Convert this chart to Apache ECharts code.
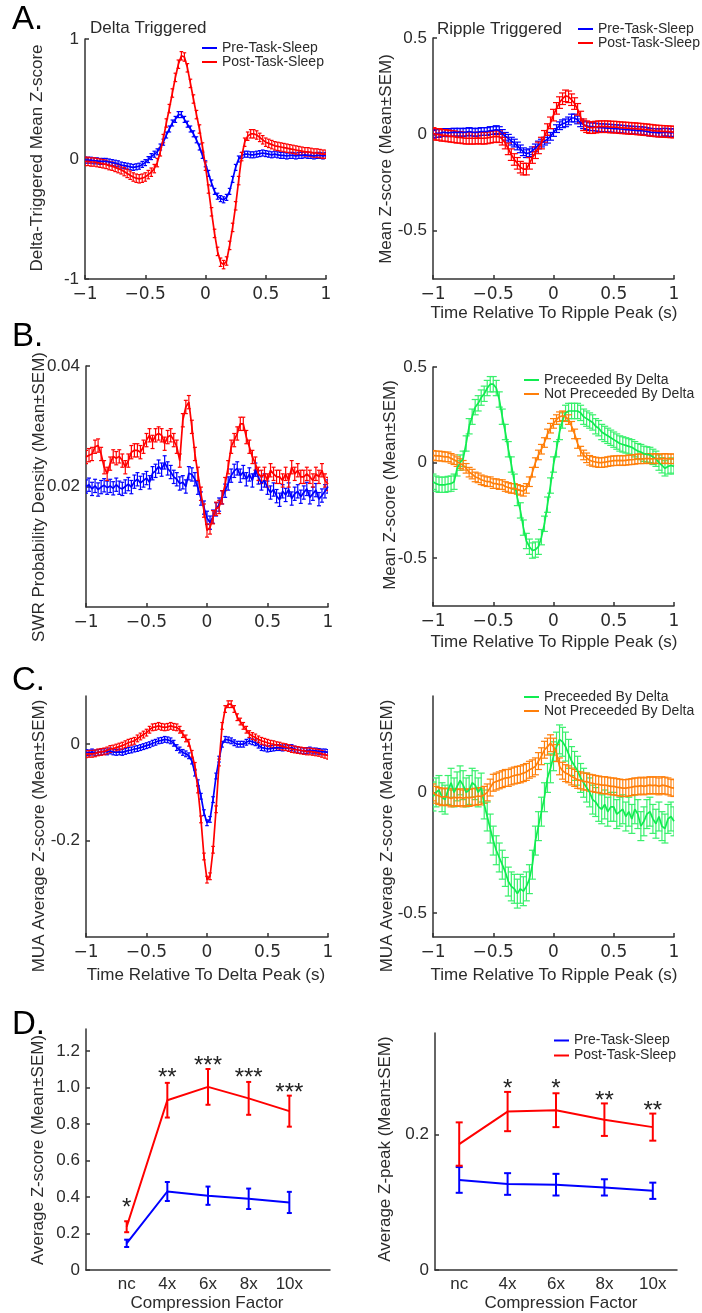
<!DOCTYPE html>
<html><head><meta charset="utf-8">
<script src="https://cdn.jsdelivr.net/npm/echarts@6/dist/echarts.min.js"></script>
<style>html,body{margin:0;padding:0;background:#fff}#c{width:702px;height:1313px}</style>
</head><body><div id="c"></div>
<script>
// ---------------- DATA ----------------
const TIME = [-1,-0.975,-0.95,-0.925,-0.9,-0.875,-0.85,-0.825,-0.8,-0.775,
 -0.75,-0.725,-0.7,-0.675,-0.65,-0.625,-0.6,-0.575,-0.55,-0.525,
 -0.5,-0.475,-0.45,-0.425,-0.4,-0.375,-0.35,-0.325,-0.3,-0.275,
 -0.25,-0.225,-0.2,-0.175,-0.15,-0.125,-0.1,-0.075,-0.05,-0.025,
 0,0.025,0.05,0.075,0.1,0.125,0.15,0.175,0.2,0.225,
 0.25,0.275,0.3,0.325,0.35,0.375,0.4,0.425,0.45,0.475,
 0.5,0.525,0.55,0.575,0.6,0.625,0.65,0.675,0.7,0.725,
 0.75,0.775,0.8,0.825,0.85,0.875,0.9,0.925,0.95,0.975,
 1];

// A left: Delta triggered mean z-score
const AL_PRE = [-0.01,-0.01,-0.01,-0.015,-0.015,-0.02,-0.02,-0.02,-0.025,-0.03,
 -0.035,-0.04,-0.05,-0.055,-0.06,-0.065,-0.07,-0.065,-0.06,-0.045,
 -0.03,-0.005,0.02,0.04,0.06,0.1,0.14,0.2,0.25,0.3,
 0.33,0.37,0.37,0.33,0.29,0.25,0.21,0.16,0.1,0.03,
 -0.04,-0.12,-0.2,-0.27,-0.31,-0.33,-0.34,-0.32,-0.27,-0.17,
 -0.07,0.0,0.03,0.04,0.04,0.035,0.035,0.04,0.045,0.05,
 0.045,0.04,0.035,0.04,0.035,0.03,0.03,0.025,0.03,0.03,
 0.025,0.03,0.03,0.035,0.03,0.03,0.025,0.03,0.03,0.025,
 0.03];
const AL_POST = [-0.02,-0.02,-0.025,-0.025,-0.03,-0.035,-0.04,-0.045,-0.055,-0.06,
 -0.07,-0.08,-0.09,-0.105,-0.12,-0.135,-0.15,-0.16,-0.165,-0.16,
 -0.15,-0.13,-0.11,-0.08,-0.03,0.06,0.17,0.3,0.42,0.55,
 0.68,0.79,0.86,0.85,0.76,0.63,0.5,0.37,0.25,0.1,
 -0.06,-0.25,-0.44,-0.62,-0.77,-0.86,-0.88,-0.85,-0.72,-0.57,
 -0.39,-0.18,0.02,0.14,0.19,0.21,0.21,0.2,0.18,0.16,
 0.14,0.13,0.12,0.11,0.105,0.1,0.095,0.09,0.085,0.08,
 0.075,0.07,0.065,0.06,0.06,0.055,0.05,0.05,0.045,0.04,
 0.04];
const AL_SEM = [0.025, 0.035];

// A right: Ripple triggered
const AR_PRE = [0.0,0.005,0.005,0.01,0.01,0.008,0.01,0.012,0.01,0.012,
 0.01,0.012,0.015,0.012,0.01,0.012,0.015,0.015,0.015,0.02,
 0.02,0.025,0.02,0.005,-0.01,-0.02,-0.035,-0.045,-0.06,-0.075,
 -0.09,-0.1,-0.095,-0.085,-0.07,-0.055,-0.045,-0.035,-0.025,-0.01,
 0.01,0.03,0.045,0.055,0.06,0.07,0.085,0.085,0.075,0.06,
 0.05,0.045,0.04,0.04,0.038,0.035,0.035,0.034,0.033,0.032,
 0.03,0.03,0.028,0.027,0.025,0.024,0.022,0.022,0.02,0.02,
 0.018,0.015,0.012,0.01,0.01,0.008,0.01,0.012,0.01,0.008,
 0.01];
const AR_POST = [0.005,0.0,0.0,-0.005,-0.005,-0.008,-0.01,-0.012,-0.015,-0.015,
 -0.018,-0.02,-0.02,-0.02,-0.02,-0.018,-0.02,-0.02,-0.018,-0.015,
 -0.012,-0.01,-0.012,-0.025,-0.045,-0.075,-0.105,-0.13,-0.15,-0.17,
 -0.18,-0.18,-0.15,-0.12,-0.095,-0.07,-0.045,-0.01,0.025,0.06,
 0.1,0.135,0.165,0.185,0.2,0.195,0.18,0.16,0.13,0.09,
 0.05,0.04,0.035,0.035,0.038,0.04,0.04,0.04,0.04,0.038,
 0.038,0.037,0.035,0.034,0.033,0.032,0.03,0.03,0.028,0.027,
 0.025,0.024,0.022,0.02,0.018,0.017,0.016,0.015,0.014,0.013,
 0.012];
const AR_SEM = [0.02, 0.03];

// B left: SWR probability density
const BL_PRE = [0.0200,0.0203,0.0196,0.0201,0.0195,0.0199,0.0202,0.0198,0.0201,0.0197,
 0.0203,0.0198,0.0196,0.0200,0.0204,0.0199,0.0208,0.0212,0.0206,0.0210,
 0.0214,0.0207,0.0222,0.0226,0.0233,0.0228,0.0240,0.0230,0.0224,0.0216,
 0.0212,0.0205,0.0207,0.0200,0.0222,0.0220,0.0212,0.0198,0.0180,0.0165,
 0.0148,0.0140,0.0150,0.0162,0.0170,0.0182,0.0193,0.0205,0.0218,0.0226,
 0.0230,0.0218,0.0224,0.0212,0.0220,0.0210,0.0228,0.0215,0.0205,0.0210,
 0.0198,0.0190,0.0195,0.0184,0.0178,0.0192,0.0186,0.0195,0.0180,0.0188,
 0.0192,0.0183,0.0190,0.0196,0.0182,0.0188,0.0194,0.0179,0.0185,0.0192,
 0.0200];
const BL_POST = [0.0249,0.0252,0.0254,0.0266,0.0268,0.0254,0.0232,0.0221,0.0238,0.0250,
 0.0247,0.0250,0.0243,0.0232,0.0243,0.0257,0.0260,0.0260,0.0257,0.0266,
 0.0277,0.0285,0.0274,0.0285,0.0288,0.0285,0.0271,0.0282,0.0285,0.0277,
 0.0266,0.0243,0.0310,0.0332,0.0340,0.0299,0.0254,0.0221,0.0188,0.0160,
 0.0127,0.0132,0.0149,0.0163,0.0166,0.0182,0.0204,0.0232,0.0266,0.0277,
 0.0288,0.0304,0.0304,0.0282,0.0266,0.0249,0.0238,0.0221,0.0216,0.0221,
 0.0210,0.0227,0.0221,0.0216,0.0216,0.0210,0.0221,0.0210,0.0232,0.0221,
 0.0227,0.0216,0.0216,0.0221,0.0216,0.0210,0.0221,0.0216,0.0227,0.0210,
 0.0204];
const BL_SEM = [0.0011, 0.0011];

// B right: ripple triggered, preceded / not preceded by delta
const BR_DELTA = [-0.1,-0.11,-0.116,-0.116,-0.116,-0.112,-0.11,-0.1,-0.03,0.0,
 0.02,0.1,0.19,0.24,0.29,0.31,0.34,0.36,0.39,0.41,
 0.41,0.39,0.33,0.24,0.16,0.07,-0.01,-0.1,-0.185,-0.25,
 -0.34,-0.41,-0.44,-0.46,-0.455,-0.44,-0.39,-0.32,-0.22,-0.12,
 -0.01,0.07,0.16,0.22,0.26,0.27,0.27,0.27,0.27,0.26,
 0.24,0.23,0.22,0.21,0.19,0.18,0.16,0.15,0.14,0.13,
 0.12,0.11,0.1,0.095,0.09,0.085,0.08,0.07,0.06,0.055,
 0.046,0.043,0.04,0.03,0.02,0.0,-0.014,-0.03,-0.02,-0.015,
 -0.02];
const BR_NODELTA = [0.038,0.035,0.035,0.033,0.03,0.03,0.022,0.015,0.005,-0.005,
 -0.014,-0.03,-0.05,-0.06,-0.075,-0.08,-0.09,-0.095,-0.1,-0.1,
 -0.11,-0.11,-0.115,-0.115,-0.125,-0.13,-0.135,-0.135,-0.14,-0.145,
 -0.15,-0.135,-0.1,-0.05,0.0,0.04,0.07,0.105,0.15,0.18,
 0.205,0.225,0.24,0.245,0.24,0.225,0.19,0.15,0.1,0.06,
 0.04,0.025,0.012,0.006,0.003,0.0,0.0,0.002,0.005,0.008,
 0.01,0.01,0.012,0.01,0.012,0.014,0.015,0.017,0.02,0.02,
 0.02,0.022,0.02,0.02,0.022,0.02,0.02,0.022,0.02,0.02,
 0.02];
const BR_SEM = [0.04, 0.025];

// C left: MUA around delta peak
const CL_PRE = [-0.017,-0.018,-0.016,-0.018,-0.017,-0.016,-0.015,-0.016,-0.014,-0.016,
 -0.017,-0.016,-0.017,-0.015,-0.013,-0.012,-0.01,-0.009,-0.007,-0.005,
 -0.003,-0.001,0.002,0.004,0.007,0.008,0.01,0.009,0.007,0.002,
 -0.007,-0.012,-0.017,-0.02,-0.024,-0.035,-0.06,-0.08,-0.108,-0.142,
 -0.163,-0.156,-0.115,-0.066,-0.031,0.0,0.01,0.009,0.007,0.003,
 0.0,0.0,0.0,0.004,0.007,0.005,0.003,-0.002,-0.007,-0.008,
 -0.01,-0.009,-0.008,-0.007,-0.007,-0.008,-0.007,-0.009,-0.007,-0.01,
 -0.012,-0.013,-0.014,-0.013,-0.012,-0.014,-0.014,-0.015,-0.016,-0.016,
 -0.017];
const CL_POST = [-0.021,-0.02,-0.02,-0.019,-0.017,-0.016,-0.015,-0.013,-0.01,-0.009,
 -0.007,-0.005,-0.003,0.0,0.003,0.005,0.007,0.012,0.016,0.02,
 0.024,0.03,0.035,0.036,0.038,0.036,0.035,0.036,0.038,0.036,
 0.035,0.03,0.021,0.012,0.003,-0.02,-0.045,-0.094,-0.156,-0.233,
 -0.281,-0.274,-0.219,-0.135,-0.038,0.038,0.073,0.083,0.083,0.073,
 0.056,0.047,0.038,0.03,0.021,0.017,0.014,0.01,0.007,0.005,
 0.003,0.001,0.0,-0.002,-0.003,-0.005,-0.006,-0.008,-0.01,-0.011,
 -0.012,-0.013,-0.014,-0.015,-0.015,-0.016,-0.017,-0.018,-0.02,-0.022,
 -0.024];
const CL_SEM = [0.006, 0.007];

// C right: MUA around ripple peak, preceded / not preceded by delta
const CR_DELTA = [-0.017,0.0,0.01,-0.02,-0.03,0.01,0.04,0.0,0.025,0.05,
 0.03,0.0,0.01,0.04,0.03,0.0,0.02,-0.05,-0.1,-0.15,
 -0.2,-0.24,-0.27,-0.3,-0.33,-0.37,-0.39,-0.4,-0.42,-0.4,
 -0.41,-0.39,-0.36,-0.3,-0.2,-0.14,-0.08,-0.02,0.06,0.1,
 0.15,0.19,0.22,0.21,0.19,0.16,0.13,0.11,0.09,0.06,
 0.04,0.02,0.0,-0.03,-0.04,-0.06,-0.07,-0.05,-0.08,-0.06,
 -0.06,-0.09,-0.08,-0.07,-0.1,-0.08,-0.11,-0.07,-0.09,-0.14,
 -0.12,-0.09,-0.08,-0.11,-0.13,-0.1,-0.14,-0.15,-0.11,-0.1,
 -0.12];
const CR_NODELTA = [0.0,-0.01,-0.015,-0.02,-0.017,-0.02,-0.025,-0.02,-0.023,-0.02,
 -0.025,-0.02,-0.023,-0.02,-0.018,-0.015,-0.017,-0.01,0.0,0.02,
 0.04,0.045,0.05,0.055,0.06,0.06,0.066,0.07,0.073,0.075,
 0.08,0.085,0.094,0.1,0.108,0.13,0.15,0.177,0.19,0.204,
 0.19,0.163,0.108,0.09,0.08,0.075,0.066,0.06,0.052,0.05,
 0.045,0.045,0.04,0.038,0.035,0.033,0.03,0.03,0.028,0.025,
 0.025,0.022,0.02,0.018,0.018,0.02,0.022,0.025,0.025,0.028,
 0.025,0.028,0.03,0.028,0.03,0.025,0.03,0.028,0.025,0.02,
 0.018];
const CR_SEM = [0.06, 0.035];

// D: compression factor
const CATS = ['nc','4x','6x','8x','10x'];
const CAT_POS = [1,2,3,4,5];
const DL_PRE = [0.146,0.43,0.407,0.39,0.37];
const DL_PRE_SEM = [0.02,0.052,0.05,0.056,0.058];
const DL_POST = [0.237,0.93,1.003,0.94,0.87];
const DL_POST_SEM = [0.03,0.095,0.098,0.09,0.085];
const DL_STARS = ['*','**','***','***','***'];
const DL_STAR_Y = [0.365,1.076,1.14,1.076,0.994];
const DR_PRE = [0.133,0.127,0.126,0.122,0.117];
const DR_PRE_SEM = [0.019,0.016,0.016,0.012,0.012];
const DR_POST = [0.186,0.234,0.236,0.222,0.211];
const DR_POST_SEM = [0.032,0.029,0.025,0.024,0.02];
const DR_STARS = ['','*','*','**','**'];
const DR_STAR_Y = [0,0.2745,0.2745,0.256,0.242];

const PRE = 'Pre-Task-Sleep', POST = 'Post-Task-Sleep';
const PD = 'Preceeded By Delta', NPD = 'Not Preceeded By Delta';

// ---------------- STYLE ----------------
const FONT = '"Liberation Sans", Arial, Helvetica, sans-serif';
const XFONT = '"DejaVu Sans", "Liberation Sans", sans-serif';
const TXT = '#2b2b2b';
const AX = '#333333';
const C_PRE = '#0000ff', C_POST = '#ff0000';
const C_GREEN = '#10ec50', C_GREEN_BAR = '#38f06c', C_ORANGE = '#ff7f0a';

const GRIDS = [
  {left:85, top:39, width:241, height:240},
  {left:433, top:38, width:241, height:241},
  {left:86, top:366, width:242, height:241},
  {left:433, top:367, width:241, height:239},
  {left:86, top:696, width:242, height:241},
  {left:433, top:696, width:241, height:241},
  {left:86, top:1029, width:244, height:241},
  {left:435, top:1033, width:242, height:237}
];

function pair(xs, ys){ return xs.map((x,i)=>[x, ys[i]]); }
function lineSeries(name, gi, xs, ys, color, w){
  return {type:'line', name, xAxisIndex:gi, yAxisIndex:gi, data:pair(xs,ys),
    showSymbol:false, symbol:'none', color, lineStyle:{color, width:w},
    silent:true, animation:false, z:3};
}
function errSeries(gi, xs, ys, sem, color, cap, w){
  const data = xs.map((x,i)=>[x, ys[i], Array.isArray(sem) ? sem[i] : sem]);
  return {type:'custom', name:'err', xAxisIndex:gi, yAxisIndex:gi, data,
    silent:true, animation:false, z:3, clip:true,
    renderItem(params, api){
      const x = api.value(0), y = api.value(1), e = api.value(2);
      const p1 = api.coord([x, y+e]), p2 = api.coord([x, y-e]);
      const st = {stroke:color, lineWidth:w};
      return {type:'group', children:[
        {type:'line', shape:{x1:p1[0],y1:p1[1],x2:p2[0],y2:p2[1]}, style:st},
        {type:'line', shape:{x1:p1[0]-cap,y1:p1[1],x2:p1[0]+cap,y2:p1[1]}, style:st},
        {type:'line', shape:{x1:p2[0]-cap,y1:p2[1],x2:p2[0]+cap,y2:p2[1]}, style:st}
      ]};
    }};
}
function starSeries(gi, xs, ys, labels){
  const data = xs.map((x,i)=>[x, ys[i], i]).filter(d => labels[d[2]]);
  return {type:'custom', name:'stars', xAxisIndex:gi, yAxisIndex:gi, data,
    silent:true, animation:false, z:5,
    renderItem(params, api){
      const p = api.coord([api.value(0), api.value(1)]);
      return {type:'text', x:p[0], y:p[1]+5,
        style:{text:labels[api.value(2)], fontSize:24, fontFamily:FONT, fill:'#222',
               align:'center', verticalAlign:'middle'}};
    }};
}
const lbl = {fontSize:17, color:TXT, fontFamily:FONT};
function fmtY(v){ return v === 0 ? '0' : String(v); }
function fmtX(v){ return v < 0 ? '\u2212' + Math.abs(v) : String(v); }
function timeX(gi){
  return {type:'value', gridIndex:gi, min:-1, max:1, interval:0.5,
    axisLine:{show:true, onZero:false, lineStyle:{color:AX, width:1.5}},
    axisTick:{show:true, inside:true, length:4, lineStyle:{color:AX, width:1.5}},
    axisLabel:{margin:7, formatter:fmtX, fontSize:17, color:TXT, fontFamily:XFONT},
    splitLine:{show:false}};
}
function catX(gi, min, max){
  return {type:'value', gridIndex:gi, min, max,
    axisLine:{show:true, onZero:false, lineStyle:{color:AX, width:1.5}},
    axisTick:{show:false},
    axisLabel:Object.assign({margin:6, customValues:CAT_POS, formatter:v => CATS[Math.round(v)-1]}, lbl),
    splitLine:{show:false}};
}
function valY(gi, min, max, vals, fmt){
  return {type:'value', gridIndex:gi, min, max,
    axisLine:{show:true, onZero:false, lineStyle:{color:AX, width:1.5}},
    axisTick:{show:true, inside:true, length:4, customValues:vals, lineStyle:{color:AX, width:1.5}},
    axisLabel:Object.assign({margin:6, customValues:vals, formatter:fmt || fmtY}, lbl),
    splitLine:{show:false}};
}

const xAxis = [timeX(0), timeX(1), timeX(2), timeX(3), timeX(4), timeX(5), catX(6,0,6), catX(7,0.5,5.5)];
const yAxis = [
  valY(0, -1, 1, [-1,0,1]),
  valY(1, -0.75, 0.5, [-0.5,0,0.5]),
  valY(2, 0, 0.04, [0.02,0.04]),
  valY(3, -0.75, 0.5, [-0.5,0,0.5]),
  valY(4, -0.4, 0.1, [-0.2,0]),
  valY(5, -0.6, 0.4, [-0.5,0]),
  valY(6, 0, 1.32, [0,0.2,0.4,0.6,0.8,1.0,1.2], v => v === 0 ? '0' : v.toFixed(1)),
  valY(7, 0, 0.35, [0,0.2])
];

const LW = 1.7;
const series = [
  lineSeries(PRE, 0, TIME, AL_PRE, C_PRE, LW), errSeries(0, TIME, AL_PRE, AL_SEM[0], C_PRE, 1.8, 1.2),
  lineSeries(POST, 0, TIME, AL_POST, C_POST, LW), errSeries(0, TIME, AL_POST, AL_SEM[1], C_POST, 1.8, 1.2),
  lineSeries(PRE, 1, TIME, AR_PRE, C_PRE, LW), errSeries(1, TIME, AR_PRE, AR_SEM[0], C_PRE, 3.5, 1.2),
  lineSeries(POST, 1, TIME, AR_POST, C_POST, LW), errSeries(1, TIME, AR_POST, AR_SEM[1], C_POST, 3.5, 1.2),
  lineSeries(PRE, 2, TIME, BL_PRE, C_PRE, LW), errSeries(2, TIME, BL_PRE, BL_SEM[0], C_PRE, 2, 1.2),
  lineSeries(POST, 2, TIME, BL_POST, C_POST, LW), errSeries(2, TIME, BL_POST, BL_SEM[1], C_POST, 2, 1.2),
  lineSeries(PD, 3, TIME, BR_DELTA, C_GREEN, LW), errSeries(3, TIME, BR_DELTA, BR_SEM[0], C_GREEN_BAR, 3.5, 1.2),
  lineSeries(NPD, 3, TIME, BR_NODELTA, C_ORANGE, LW), errSeries(3, TIME, BR_NODELTA, BR_SEM[1], C_ORANGE, 3.5, 1.2),
  lineSeries(PRE, 4, TIME, CL_PRE, C_PRE, LW), errSeries(4, TIME, CL_PRE, CL_SEM[0], C_PRE, 1.8, 1.2),
  lineSeries(POST, 4, TIME, CL_POST, C_POST, LW), errSeries(4, TIME, CL_POST, CL_SEM[1], C_POST, 1.8, 1.2),
  lineSeries(PD, 5, TIME, CR_DELTA, C_GREEN, LW), errSeries(5, TIME, CR_DELTA, CR_SEM[0], C_GREEN_BAR, 3.5, 1.2),
  lineSeries(NPD, 5, TIME, CR_NODELTA, C_ORANGE, LW), errSeries(5, TIME, CR_NODELTA, CR_SEM[1], C_ORANGE, 3.5, 1.2),
  lineSeries(PRE, 6, CAT_POS, DL_PRE, C_PRE, 2), errSeries(6, CAT_POS, DL_PRE, DL_PRE_SEM, C_PRE, 2.5, 2),
  lineSeries(POST, 6, CAT_POS, DL_POST, C_POST, 2), errSeries(6, CAT_POS, DL_POST, DL_POST_SEM, C_POST, 2.5, 2),
  starSeries(6, CAT_POS, DL_STAR_Y, DL_STARS),
  lineSeries(PRE, 7, CAT_POS, DR_PRE, C_PRE, 2), errSeries(7, CAT_POS, DR_PRE, DR_PRE_SEM, C_PRE, 3.5, 2),
  lineSeries(POST, 7, CAT_POS, DR_POST, C_POST, 2), errSeries(7, CAT_POS, DR_POST, DR_POST_SEM, C_POST, 3.5, 2),
  starSeries(7, CAT_POS, DR_STAR_Y, DR_STARS)
];

function legendAt(names, left, top, fs, lh){
  return {data:names, left, top, orient:'vertical', padding:0, itemGap:0,
    icon:'rect', itemWidth:15, itemHeight:2, selectedMode:false,
    textStyle:{fontSize:fs, lineHeight:lh, color:TXT, fontFamily:FONT}};
}
const legend = [
  legendAt([PRE, POST], 202, 41, 14, 14),
  legendAt([PRE, POST], 578, 22, 14, 14),
  legendAt([PD, NPD], 524, 373, 14, 14),
  legendAt([PD, NPD], 524, 690, 14, 14),
  legendAt([PRE, POST], 554, 1033, 14, 15)
];

function txt(text, x, y, opt){
  return Object.assign({type:'text', x, y, silent:true,
    style:{text, fontSize:17, fontFamily:FONT, fill:TXT, align:'center', verticalAlign:'middle'}}, opt || {});
}
function vtxt(text, x, y){ return txt(text, x, y, {rotation:Math.PI/2}); }
function letter(t, y){
  return txt(t, 12, y, {style:{text:t, fontSize:33, fontFamily:FONT, fill:'#000', align:'left', verticalAlign:'middle'}});
}
const graphic = [
  letter('A.', 20), letter('B.', 337), letter('C.', 681), letter('D.', 1025),
  txt('Delta Triggered', 90, 28, {style:{text:'Delta Triggered', fontSize:17, fontFamily:FONT, fill:TXT, align:'left', verticalAlign:'middle'}}),
  txt('Ripple Triggered', 437, 29, {style:{text:'Ripple Triggered', fontSize:17, fontFamily:FONT, fill:TXT, align:'left', verticalAlign:'middle'}}),
  vtxt('Delta-Triggered Mean Z-score', 37, 158),
  vtxt('Mean Z-score (Mean\u00b1SEM)', 386, 159),
  vtxt('SWR Probability Density (Mean\u00b1SEM)', 39, 497),
  vtxt('Mean Z-score (Mean\u00b1SEM)', 390, 485),
  vtxt('MUA Average Z-score (Mean\u00b1SEM)', 39, 836),
  vtxt('MUA Average Z-score (Mean\u00b1SEM)', 387, 836),
  vtxt('Average Z-score (Mean\u00b1SEM)', 38, 1150),
  vtxt('Average Z-peak (Mean\u00b1SEM)', 385, 1149),
  txt('Time Relative To Ripple Peak (s)', 554, 313),
  txt('Time Relative To Ripple Peak (s)', 554, 642),
  txt('Time Relative To Delta Peak (s)', 206, 975),
  txt('Time Relative To Ripple Peak (s)', 554, 975),
  txt('Compression Factor', 207, 1303),
  txt('Compression Factor', 561, 1303)
];

const chart = echarts.init(document.getElementById('c'), null, {renderer:'canvas'});
chart.setOption({
  animation:false,
  backgroundColor:'#fff',
  grid:GRIDS, xAxis, yAxis, series, legend, graphic
});
</script></body></html>
